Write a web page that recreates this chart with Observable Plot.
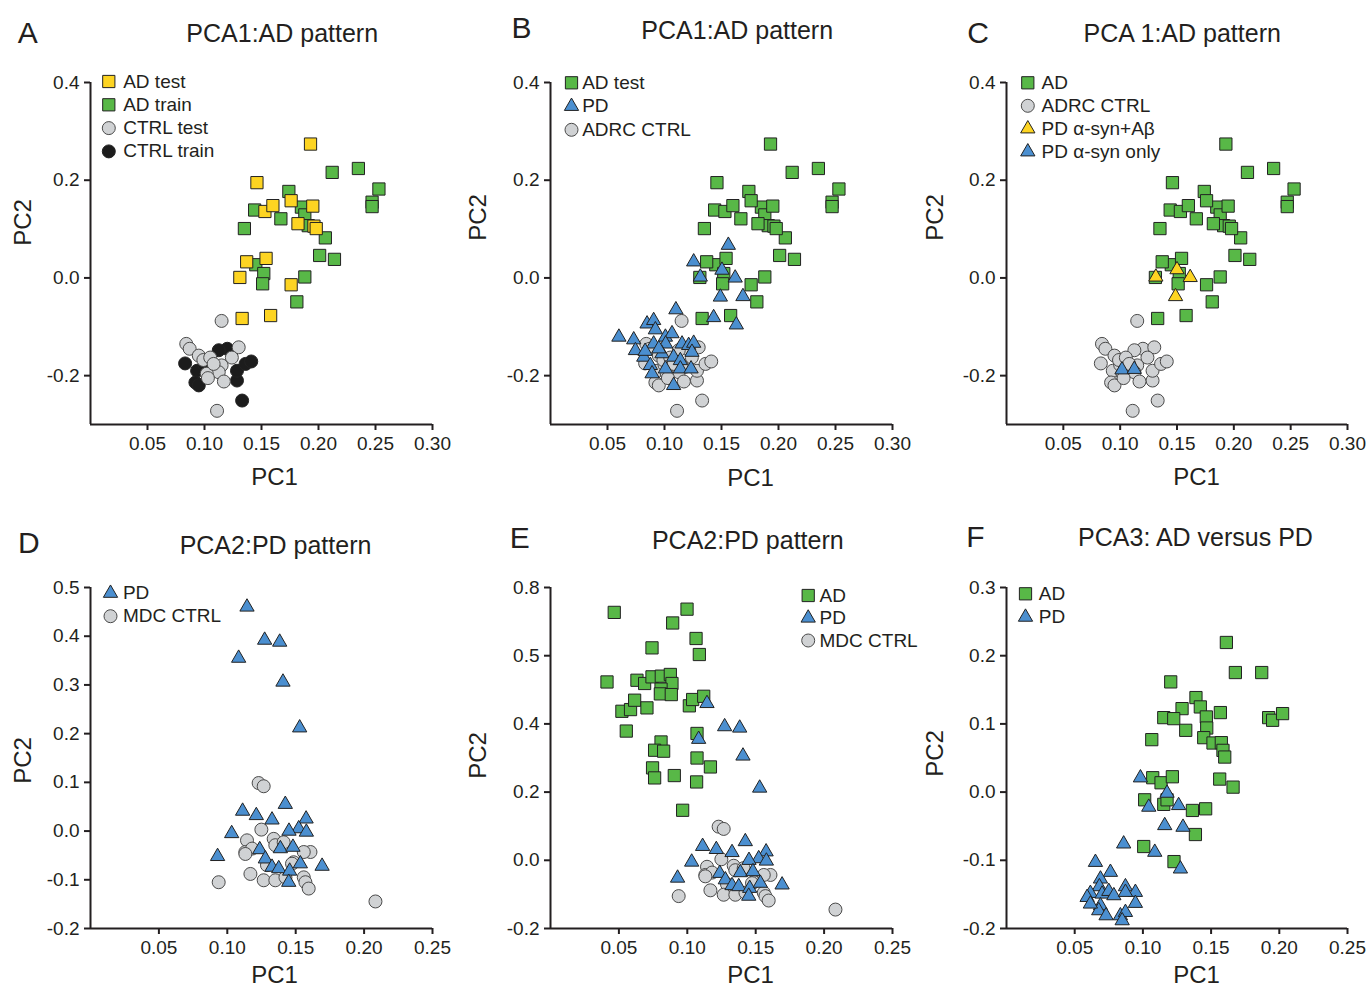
<!DOCTYPE html>
<html><head><meta charset="utf-8">
<script src="https://cdn.jsdelivr.net/npm/d3@7"></script>
<script src="https://cdn.jsdelivr.net/npm/@observablehq/plot@0.6"></script>
<style>
body{margin:0;background:#fff;}
#wrap{position:relative;width:1369px;height:988px;overflow:hidden;background:#fff;}
.panel{position:absolute;}
</style></head><body><div id="wrap"></div>
<script>
// ---------- DATA (PC1, PC2) ----------
// PCA1: AD pattern
const adTest = [[0.193,0.274],[0.146,0.195],[0.153,0.136],[0.160,0.148],[0.176,0.158],[0.195,0.147],[0.182,0.111],[0.196,0.106],[0.198,0.101],[0.137,0.033],[0.154,0.040],[0.131,0.001],[0.176,-0.014],[0.133,-0.083],[0.158,-0.077]];
const adTrain = [[0.235,0.224],[0.212,0.216],[0.253,0.182],[0.247,0.155],[0.247,0.146],[0.174,0.177],[0.144,0.139],[0.167,0.121],[0.185,0.145],[0.188,0.129],[0.191,0.107],[0.206,0.082],[0.135,0.101],[0.201,0.046],[0.214,0.038],[0.145,0.027],[0.152,0.009],[0.151,-0.012],[0.188,0.002],[0.181,-0.049]];
const ctrlTrain = [[0.120,-0.145],[0.1125,-0.148],[0.083,-0.175],[0.0935,-0.190],[0.092,-0.214],[0.095,-0.220],[0.1285,-0.210],[0.1285,-0.190],[0.136,-0.176],[0.141,-0.171],[0.133,-0.251],[0.100,-0.178]];
const ctrlTest = [[0.115,-0.088],[0.084,-0.135],[0.087,-0.145],[0.095,-0.159],[0.099,-0.168],[0.105,-0.163],[0.130,-0.142],[0.124,-0.163],[0.115,-0.179],[0.1125,-0.193],[0.102,-0.196],[0.103,-0.205],[0.117,-0.212],[0.111,-0.272],[0.108,-0.176]];
const pdB = [[0.156,0.067],[0.1256,0.033],[0.1314,0.002],[0.1504,0.016],[0.162,0.000],[0.149,-0.039],[0.1688,-0.038],[0.1431,-0.081],[0.163,-0.096],[0.110,-0.065],
  [0.060,-0.121],[0.073,-0.1265],[0.0745,-0.1485],[0.0847,-0.094],[0.0905,-0.087],[0.092,-0.106],[0.1008,-0.121],[0.1066,-0.114],[0.0905,-0.135],[0.101,-0.135],[0.1154,-0.135],[0.1212,-0.138],[0.1256,-0.1335],[0.0818,-0.162],[0.0978,-0.155],[0.108,-0.162],[0.1139,-0.169],[0.1241,-0.152],[0.0876,-0.179],[0.1008,-0.186],[0.1139,-0.186],[0.1233,-0.186],[0.0891,-0.196],[0.108,-0.220],[0.095,-0.145],[0.083,-0.150]];
const pdSynAbeta = [[0.1314,0.002],[0.150,0.017],[0.1616,0.001],[0.1487,-0.038]];
const pdSynOnly = [[0.1016,-0.188],[0.1124,-0.187]];
// PCA2: PD pattern
const pdD = [[0.1144,0.460],[0.1273,0.392],[0.1383,0.388],[0.1083,0.355],[0.1407,0.306],[0.1529,0.212],[0.1424,0.055],[0.1112,0.041],[0.1212,0.032],[0.1327,0.023],[0.1576,0.025],[0.1522,0.005],[0.1578,-0.002],[0.1451,0.000],[0.1032,-0.005],[0.0929,-0.052],[0.1237,-0.038],[0.1278,-0.057],[0.1388,-0.036],[0.148,-0.033],[0.1327,-0.074],[0.1376,-0.077],[0.1456,-0.082],[0.1534,-0.067],[0.1693,-0.072],[0.1449,-0.105]];
const mdcCtrl = [[0.1229,0.0986],[0.1266,0.092],[0.1249,0.003],[0.1144,-0.019],[0.1132,-0.043],[0.1339,-0.016],[0.1351,-0.029],[0.1412,-0.023],[0.1181,-0.036],[0.1608,-0.043],[0.1559,-0.043],[0.129,-0.070],[0.1485,-0.064],[0.0937,-0.105],[0.1169,-0.088],[0.1266,-0.101],[0.1351,-0.101],[0.1425,-0.095],[0.1559,-0.095],[0.1571,-0.105],[0.1595,-0.118],[0.2083,-0.1445],[0.1473,-0.067],[0.1132,-0.047]];
const adE = [[0.0466,0.727],[0.0998,0.7365],[0.0893,0.696],[0.1064,0.6505],[0.1088,0.6035],[0.0742,0.623],[0.0413,0.523],[0.0632,0.528],[0.0688,0.5185],[0.0742,0.538],[0.081,0.540],[0.0876,0.545],[0.0888,0.5185],[0.0808,0.502],[0.0803,0.488],[0.0883,0.486],[0.0522,0.437],[0.0585,0.442],[0.0615,0.4695],[0.0705,0.447],[0.1015,0.453],[0.1039,0.4715],[0.112,0.481],[0.0554,0.379],[0.1071,0.372],[0.0808,0.347],[0.0761,0.3228],[0.0827,0.320],[0.1071,0.300],[0.1169,0.2738],[0.0746,0.271],[0.0761,0.2416],[0.0905,0.2485],[0.1068,0.2298],[0.0966,0.1467]];
// PCA3: AD versus PD
const adF = [[0.1612,0.2194],[0.1678,0.1753],[0.1871,0.1753],[0.1204,0.1616],[0.1389,0.1386],[0.1421,0.1249],[0.1287,0.1224],[0.1153,0.1092],[0.1226,0.1077],[0.1465,0.1102],[0.1568,0.1166],[0.1314,0.0906],[0.1468,0.094],[0.1446,0.0798],[0.1514,0.072],[0.1575,0.0725],[0.1587,0.0612],[0.160,0.0514],[0.1922,0.1092],[0.1951,0.1053],[0.2024,0.1151],[0.1065,0.0769],[0.1072,0.0211],[0.1133,0.0137],[0.1216,0.0225],[0.1563,0.0191],[0.1661,0.0073],[0.1013,-0.0113],[0.1153,-0.018],[0.1177,-0.0113],[0.1363,-0.0269],[0.146,-0.0245],[0.1385,-0.0622],[0.1006,-0.0798],[0.1228,-0.1019]];
const pdF = [[0.0982,0.021],[0.1177,-0.0015],[0.1043,-0.022],[0.1262,-0.0196],[0.116,-0.049],[0.1294,-0.0514],[0.0859,-0.0759],[0.1087,-0.0881],[0.1275,-0.1126],[0.0652,-0.1029],[0.0762,-0.1175],[0.0689,-0.1273],[0.0681,-0.1386],[0.0872,-0.1386],[0.0945,-0.1469],[0.0615,-0.1484],[0.0591,-0.1543],[0.0701,-0.1494],[0.075,-0.1455],[0.0787,-0.1518],[0.0872,-0.1469],[0.0945,-0.163],[0.0689,-0.1665],[0.0676,-0.1738],[0.073,-0.1812],[0.0835,-0.1812],[0.0872,-0.1763],[0.0848,-0.1885],[0.0615,-0.164]];

// ---------- AXES / TEXT ----------
const xTicksTop = [0.05,0.10,0.15,0.20,0.25,0.30];
const xTicksBottom = [0.05,0.10,0.15,0.20,0.25];
const yTicksTop = [0.4,0.2,0.0,-0.2];
const yLabelsTop = ["0.4","0.2","0.0","-0.2"];
const yTicksD = [0.5,0.4,0.3,0.2,0.1,0.0,-0.1,-0.2];
const yLabelsD = ["0.5","0.4","0.3","0.2","0.1","0.0","-0.1","-0.2"];
const yTicksE = [0.8,0.6,0.4,0.2,0.0,-0.2];
const yLabelsE = ["0.8","0.5","0.4","0.2","0.0","-0.2"];
const yTicksF = [0.3,0.2,0.1,0.0,-0.1,-0.2];
const yLabelsF = ["0.3","0.2","0.1","0.0","-0.1","-0.2"];
const titles = ["PCA1:AD pattern","PCA1:AD pattern","PCA 1:AD pattern","PCA2:PD pattern","PCA2:PD pattern","PCA3: AD versus PD"];
const letters = ["A","B","C","D","E","F"];

const C = {green:"#58b847", yellow:"#fdd422", blue:"#4b8fd0", grey:"#d0d2d4", black:"#1c1c1c"};
const INK = "#231f20";
const FONT = "'Liberation Sans', Arial, Helvetica, sans-serif";
const R = {circle:6.5, square:6.9, triangle:5.3};

function dots(data, symbol, fill) {
  return Plot.dot(data, {x: d => d[0], y: d => d[1], symbol, r: R[symbol], fill: C[fill],
    stroke: fill === "grey" ? "#4a4a4a" : "#222", strokeWidth: 1});
}

function panel(p) {
  const marks = [];
  for (const L of p.layers) marks.push(dots(L.data, L.symbol, L.fill));
  marks.push(Plot.ruleX([p.xDomain[0]], {stroke: INK, strokeWidth: 2}));
  marks.push(Plot.ruleY([p.yDomain[0]], {stroke: INK, strokeWidth: 2}));
  marks.push(Plot.axisX({ticks: p.xTicks, tickFormat: d => d.toFixed(2), tickSize: 6, tickPadding: 6, strokeWidth: 2, stroke: INK, fill: INK, fontSize: 19, label: null}));
  marks.push(Plot.axisY({ticks: p.yTicks, tickFormat: d => p.yLabels[p.yTicks.indexOf(d)], tickSize: 6, tickPadding: 5, strokeWidth: 2, stroke: INK, fill: INK, fontSize: 19, label: null}));
  p.legend.forEach((it, i) => {
    marks.push(Plot.dot([it], {frameAnchor: "top-left", dx: p.lg[0], dy: p.lg[1] + i * p.lg[3], symbol: it.symbol, r: R[it.symbol], fill: C[it.fill], stroke: it.fill === "grey" ? "#4a4a4a" : "#222", strokeWidth: 1}));
    marks.push(Plot.text([it], {frameAnchor: "top-left", dx: p.lg[2], dy: p.lg[1] + i * p.lg[3], text: d => d.label, textAnchor: "start", lineAnchor: "middle", fontSize: 19, fill: INK}));
  });
  marks.push(Plot.text([p.title], {frameAnchor: "top-left", dx: p.tt[0], dy: p.tt[1], text: d => d, textAnchor: "middle", lineAnchor: "middle", fontSize: 25, fill: INK}));
  marks.push(Plot.text([p.letter], {frameAnchor: "top-left", dx: p.lt[0], dy: p.lt[1], text: d => d, textAnchor: "middle", lineAnchor: "middle", fontSize: 30, fill: INK}));
  marks.push(Plot.text(["PC2"], {frameAnchor: "left", dx: p.pc2[0], dy: p.pc2[1], rotate: -90, text: d => d, textAnchor: "middle", lineAnchor: "middle", fontSize: 24, fill: INK}));
  marks.push(Plot.text(["PC1"], {frameAnchor: "bottom", dx: p.pc1[0], dy: p.pc1[1], text: d => d, textAnchor: "middle", lineAnchor: "middle", fontSize: 24, fill: INK}));
  const svg = Plot.plot({
    width: p.width, height: 494,
    marginLeft: 90, marginRight: p.mR, marginTop: p.mT, marginBottom: p.mB,
    x: {domain: p.xDomain}, y: {domain: p.yDomain},
    style: {fontFamily: FONT, fontSize: "19px", color: INK, overflow: "visible", background: "transparent"},
    marks
  });
  const div = document.createElement("div");
  div.className = "panel";
  div.style.left = p.left + "px"; div.style.top = p.top + "px"; div.style.width = p.width + "px";
  div.appendChild(svg);
  document.getElementById("wrap").appendChild(div);
}

const topRow = {top: 0, mT: 82, mB: 70, xDomain: [0, 0.30], xTicks: xTicksTop, yDomain: [-0.3, 0.4], yTicks: yTicksTop, yLabels: yLabelsTop};
const botRow = {top: 494, mT: 93, mB: 60, xDomain: [0, 0.25], xTicks: xTicksBottom};

panel({...topRow, left: 0, width: 460, mR: 28, title: titles[0], letter: letters[0],
  layers: [{data: ctrlTrain, symbol: "circle", fill: "black"}, {data: ctrlTest, symbol: "circle", fill: "grey"},
           {data: adTrain, symbol: "square", fill: "green"}, {data: adTest, symbol: "square", fill: "yellow"}],
  legend: [{label: "AD test", symbol: "square", fill: "yellow"}, {label: "AD train", symbol: "square", fill: "green"},
           {label: "CTRL test", symbol: "circle", fill: "grey"}, {label: "CTRL train", symbol: "circle", fill: "black"}],
  lg: [18.3, -1, 32.7, 23.3], tt: [191.7, -48.7], lt: [-62.7, -48.7], pc2: [-67, -31], pc1: [13, 53]});

panel({...topRow, left: 460, width: 456, mR: 24, title: titles[1], letter: letters[1],
  layers: [{data: ctrlTrain.concat(ctrlTest), symbol: "circle", fill: "grey"},
           {data: adTrain.concat(adTest), symbol: "square", fill: "green"}, {data: pdB, symbol: "triangle", fill: "blue"}],
  legend: [{label: "AD test", symbol: "square", fill: "green"}, {label: "PD", symbol: "triangle", fill: "blue"},
           {label: "ADRC CTRL", symbol: "circle", fill: "grey"}],
  lg: [21, 0.3, 31.7, 23.5], tt: [186.7, -52], lt: [-29, -53.7], pc2: [-72.5, -36], pc1: [29, 54]});

panel({...topRow, left: 916, width: 453, mR: 22, title: titles[2], letter: letters[2],
  layers: [{data: ctrlTrain.concat(ctrlTest), symbol: "circle", fill: "grey"},
           {data: adTrain.concat(adTest), symbol: "square", fill: "green"},
           {data: pdSynAbeta, symbol: "triangle", fill: "yellow"}, {data: pdSynOnly, symbol: "triangle", fill: "blue"}],
  legend: [{label: "AD", symbol: "square", fill: "green"}, {label: "ADRC CTRL", symbol: "circle", fill: "grey"},
           {label: "PD \u03b1-syn+A\u03b2", symbol: "triangle", fill: "yellow"}, {label: "PD \u03b1-syn only", symbol: "triangle", fill: "blue"}],
  lg: [21.3, 0.3, 35, 23], tt: [175.7, -48.7], lt: [-28.3, -48.7], pc2: [-71, -36], pc1: [19.5, 53]});

panel({...botRow, left: 0, width: 460, mR: 28, yDomain: [-0.2, 0.5], yTicks: yTicksD, yLabels: yLabelsD, title: titles[3], letter: letters[3],
  layers: [{data: mdcCtrl, symbol: "circle", fill: "grey"}, {data: pdD, symbol: "triangle", fill: "blue"}],
  legend: [{label: "PD", symbol: "triangle", fill: "blue"}, {label: "MDC CTRL", symbol: "circle", fill: "grey"}],
  lg: [20, 5.7, 32.4, 23], tt: [185, -42], lt: [-61.7, -43.7], pc2: [-67, 2.5], pc1: [13, 47]});

panel({...botRow, left: 460, width: 456, mR: 24, yDomain: [-0.2, 0.8], yTicks: yTicksE, yLabels: yLabelsE, title: titles[4], letter: letters[4],
  layers: [{data: adE, symbol: "square", fill: "green"}, {data: mdcCtrl, symbol: "circle", fill: "grey"}, {data: pdD, symbol: "triangle", fill: "blue"}],
  legend: [{label: "AD", symbol: "square", fill: "green"}, {label: "PD", symbol: "triangle", fill: "blue"}, {label: "MDC CTRL", symbol: "circle", fill: "grey"}],
  lg: [257.7, 8, 269, 22.5], tt: [197.3, -47], lt: [-30.7, -48.7], pc2: [-72.5, -2.5], pc1: [29, 47]});

panel({...botRow, left: 916, width: 453, mR: 22, yDomain: [-0.2, 0.3], yTicks: yTicksF, yLabels: yLabelsF, title: titles[5], letter: letters[5],
  layers: [{data: adF, symbol: "square", fill: "green"}, {data: pdF, symbol: "triangle", fill: "blue"}],
  legend: [{label: "AD", symbol: "square", fill: "green"}, {label: "PD", symbol: "triangle", fill: "blue"}],
  lg: [19, 6.3, 32.3, 23.3], tt: [189, -49.7], lt: [-31, -50.3], pc2: [-71, -4.5], pc1: [19.5, 47]});
</script></body></html>
